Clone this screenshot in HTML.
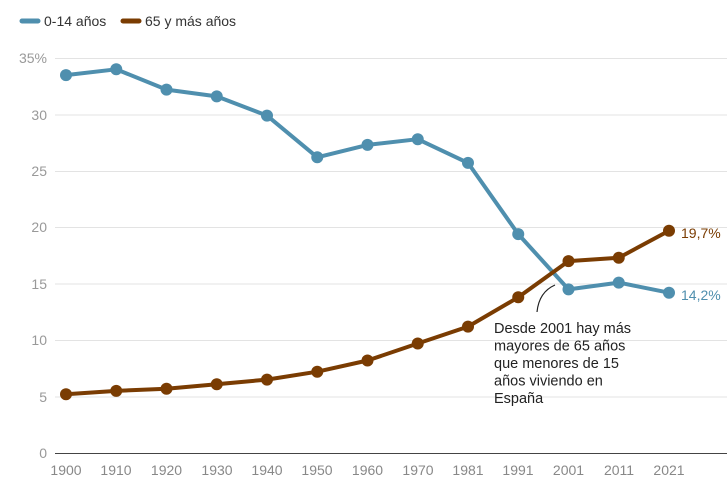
<!DOCTYPE html>
<html><head><meta charset="utf-8"><style>
body{margin:0;background:#fff;}
svg{display:block;font-family:"Liberation Sans",sans-serif;}
</style></head><body>
<svg width="727" height="491" viewBox="0 0 727 491">
<g stroke="#e3e3e3" stroke-width="1">
<line x1="55" x2="727" y1="58.5" y2="58.5"/><line x1="55" x2="727" y1="115" y2="115"/>
<line x1="55" x2="727" y1="171.5" y2="171.5"/><line x1="55" x2="727" y1="227.5" y2="227.5"/>
<line x1="55" x2="727" y1="284" y2="284"/><line x1="55" x2="727" y1="340.5" y2="340.5"/>
<line x1="55" x2="727" y1="397" y2="397"/>
</g>
<line x1="55" x2="727" y1="453.5" y2="453.5" stroke="#444" stroke-width="1"/>
<g fill="#999" font-size="14" text-anchor="end">
<text x="47" y="63">35%</text><text x="47" y="120">30</text><text x="47" y="176">25</text>
<text x="47" y="232">20</text><text x="47" y="289">15</text><text x="47" y="345">10</text>
<text x="47" y="402">5</text><text x="47" y="458">0</text>
</g>
<g fill="#888" font-size="14" text-anchor="middle">
<text x="66" y="475">1900</text><text x="116" y="475">1910</text><text x="166.5" y="475">1920</text>
<text x="217" y="475">1930</text><text x="267" y="475">1940</text><text x="317" y="475">1950</text>
<text x="367.5" y="475">1960</text><text x="418" y="475">1970</text><text x="468" y="475">1981</text>
<text x="518" y="475">1991</text><text x="568.5" y="475">2001</text><text x="619" y="475">2011</text>
<text x="669" y="475">2021</text>
</g>
<g stroke="#4f8fae" fill="#4f8fae">
<polyline fill="none" stroke-width="4" stroke-linejoin="round" points="66,75.1 116.25,69.3 166.5,89.6 216.75,96.4 267,115.6 317.25,157.3 367.5,144.9 417.75,139.2 468,162.9 518.25,234.1 568.5,289.4 618.75,282.6 669,292.7"/>
<g stroke="none">
<circle cx="66" cy="75.1" r="6"/><circle cx="116.25" cy="69.3" r="6"/><circle cx="166.5" cy="89.6" r="6"/><circle cx="216.75" cy="96.4" r="6"/><circle cx="267" cy="115.6" r="6"/><circle cx="317.25" cy="157.3" r="6"/><circle cx="367.5" cy="144.9" r="6"/><circle cx="417.75" cy="139.2" r="6"/><circle cx="468" cy="162.9" r="6"/><circle cx="518.25" cy="234.1" r="6"/><circle cx="568.5" cy="289.4" r="6"/><circle cx="618.75" cy="282.6" r="6"/><circle cx="669" cy="292.7" r="6"/>
</g></g>
<g stroke="#7a3c02" fill="#7a3c02">
<polyline fill="none" stroke-width="4" stroke-linejoin="round" points="66,394.3 116.25,390.9 166.5,388.7 216.75,384.2 267,379.6 317.25,371.7 367.5,360.5 417.75,343.5 468,326.6 518.25,297.3 568.5,261.1 618.75,257.8 669,230.7"/>
<g stroke="none">
<circle cx="66" cy="394.3" r="6"/><circle cx="116.25" cy="390.9" r="6"/><circle cx="166.5" cy="388.7" r="6"/><circle cx="216.75" cy="384.2" r="6"/><circle cx="267" cy="379.6" r="6"/><circle cx="317.25" cy="371.7" r="6"/><circle cx="367.5" cy="360.5" r="6"/><circle cx="417.75" cy="343.5" r="6"/><circle cx="468" cy="326.6" r="6"/><circle cx="518.25" cy="297.3" r="6"/><circle cx="568.5" cy="261.1" r="6"/><circle cx="618.75" cy="257.8" r="6"/><circle cx="669" cy="230.7" r="6"/>
</g></g>
<text x="681" y="238" font-size="14" fill="#7a3c02">19,7%</text>
<text x="681" y="300" font-size="14" fill="#4f8fae">14,2%</text>
<path d="M537,312 Q539,292 555,285" fill="none" stroke="#222" stroke-width="1.2"/>
<g font-size="14.5" fill="#222">
<text x="494" y="333">Desde 2001 hay más</text>
<text x="494" y="350.5">mayores de 65 años</text>
<text x="494" y="368">que menores de 15</text>
<text x="494" y="385.5">años viviendo en</text>
<text x="494" y="403">España</text>
</g>
<line x1="22" x2="38" y1="21" y2="21" stroke="#4f8fae" stroke-width="5" stroke-linecap="round"/>
<text x="44" y="26" font-size="14" fill="#333">0-14 años</text>
<line x1="123" x2="139" y1="21" y2="21" stroke="#7a3c02" stroke-width="5" stroke-linecap="round"/>
<text x="145" y="26" font-size="14" fill="#333">65 y más años</text>
</svg>
</body></html>
